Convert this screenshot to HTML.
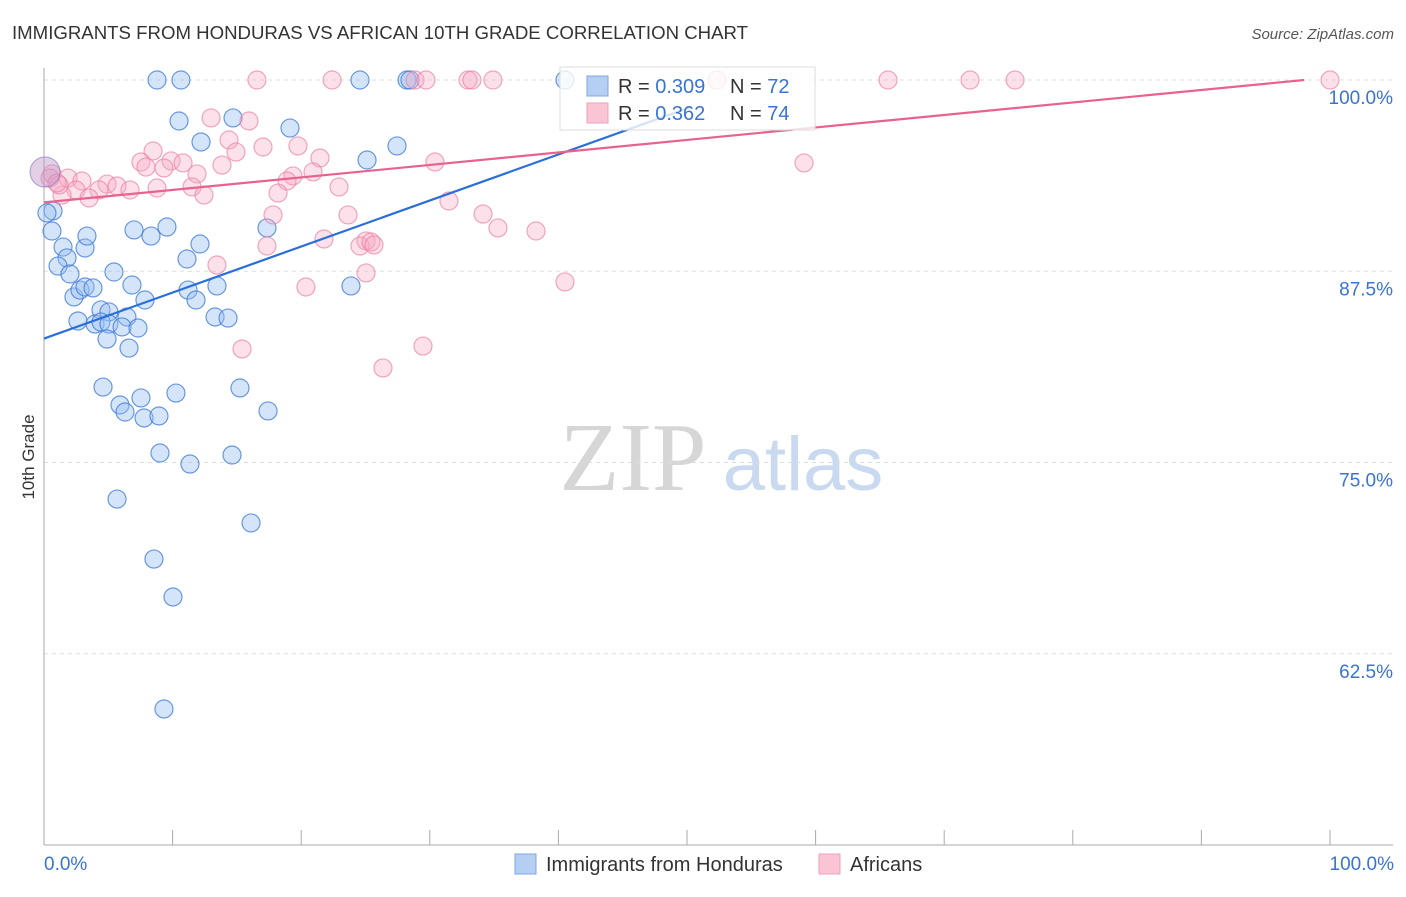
<!DOCTYPE html>
<html><head><meta charset="utf-8"><style>
body{margin:0;background:#fff;width:1406px;height:892px;overflow:hidden;font-family:"Liberation Sans",sans-serif}
</style></head><body>
<svg id="chart" width="1406" height="892" xmlns="http://www.w3.org/2000/svg" font-family="Liberation Sans, sans-serif">
<text x="12" y="39" font-size="18" fill="#333" textLength="736" lengthAdjust="spacingAndGlyphs">IMMIGRANTS FROM HONDURAS VS AFRICAN 10TH GRADE CORRELATION CHART</text>
<text x="1394" y="39" font-size="15" fill="#555" text-anchor="end" font-style="italic">Source: ZipAtlas.com</text>
<g>
<text x="633" y="490" font-size="98" fill="#d6d6d6" font-family="Liberation Serif, serif" text-anchor="middle">ZIP</text>
<text x="803" y="490" font-size="76" fill="#c8d9f0" text-anchor="middle">atlas</text>
</g>
<g id="grid"></g>
<g id="axes"></g>
<g id="pts"></g>
<g id="lines"></g>
<text transform="translate(34,457) rotate(-90)" font-size="17" fill="#333" text-anchor="middle">10th Grade</text>
<text x="44" y="870" font-size="19" fill="#3a73d4">0.0%</text>
<text x="1394" y="870" font-size="19" fill="#3a73d4" text-anchor="end">100.0%</text>
<g>
<rect x="560" y="67" width="255" height="63" fill="rgba(255,255,255,0.8)" stroke="#ddd"/>
<rect x="587" y="76" width="21" height="20" fill="#b5cff3" stroke="#7fa6e3"/>
<rect x="587" y="103" width="21" height="20" fill="#f9c4d3" stroke="#f0a2b9"/>
<text x="618" y="93" font-size="20" fill="#333">R = <tspan fill="#3a73d4">0.309</tspan></text>
<text x="730" y="93" font-size="20" fill="#333">N = <tspan fill="#3a73d4">72</tspan></text>
<text x="618" y="120" font-size="20" fill="#333">R = <tspan fill="#3a73d4"> 0.362</tspan></text>
<text x="730" y="120" font-size="20" fill="#333">N = <tspan fill="#3a73d4">74</tspan></text>
</g>
<g><rect x="515" y="854" width="21" height="20" fill="#b5cff3" stroke="#7fa6e3"/><text x="546" y="871" font-size="20" fill="#333">Immigrants from Honduras</text></g>
<g><rect x="819" y="854" width="21" height="20" fill="#f9c4d3" stroke="#f0a2b9"/><text x="850" y="871" font-size="20" fill="#333">Africans</text></g>
</svg>
<script>
const yTicks=[100,87.5,75,62.5];
const yTickLabels=["100.0%","87.5%","75.0%","62.5%"];
const xTicks=[0,10,20,30,40,50,60,70,80,90,100];
const bluePx=[[157,80],[181,80],[360,80],[407,80],[565,80],[410,80],[179,121],[233,118],[201,142],[290,128],[397,146],[367,160],[53,211],[47,213],[52,231],[267,228],[63,247],[85,248],[87,236],[134,230],[151,236],[167,227],[200,244],[67,258],[58,266],[187,259],[70,274],[114,272],[74,297],[80,290],[85,287],[93,288],[132,285],[188,290],[217,286],[351,286],[145,300],[196,300],[101,310],[109,312],[127,317],[215,317],[228,318],[78,321],[95,324],[101,322],[109,324],[122,327],[138,328],[107,339],[129,348],[103,387],[120,405],[125,412],[141,398],[144,418],[159,416],[176,393],[240,388],[268,411],[160,453],[190,464],[232,455],[117,499],[251,523],[154,559],[173,597],[164,709]];
const pinkPx=[[257,80],[332,80],[415,80],[426,80],[468,80],[472,80],[493,80],[717,80],[888,80],[970,80],[1015,80],[1330,80],[211,118],[249,121],[229,140],[298,146],[153,151],[263,147],[320,158],[236,152],[171,161],[141,162],[183,163],[146,167],[164,168],[197,174],[222,165],[435,162],[804,163],[52,174],[68,178],[82,181],[107,184],[117,186],[99,190],[130,190],[157,188],[293,176],[313,172],[287,181],[192,187],[76,190],[62,195],[89,198],[204,195],[278,193],[339,187],[59,185],[449,201],[483,214],[348,215],[273,215],[498,228],[536,231],[324,239],[366,241],[360,246],[371,242],[374,245],[267,246],[217,265],[366,273],[306,287],[565,282],[242,349],[423,346],[383,368],[50,178],[57,183]];
const blueX=bluePx.map(p=>+((p[0]-44)/12.86).toFixed(2));
const blueY=bluePx.map(p=>+(100-(p[1]-80)/15.3).toFixed(2));
const pinkX=pinkPx.map(p=>+((p[0]-44)/12.86).toFixed(2));
const pinkY=pinkPx.map(p=>+(100-(p[1]-80)/15.3).toFixed(2));
const blueLine=[[0,83.1],[50.2,98.2]];
const pinkLine=[[0,92.0],[98,100]];
const X=v=>44+v*12.86, Y=v=>80+(100-v)*15.3;
const NS="http://www.w3.org/2000/svg";
function mk(t,a,par){const e=document.createElementNS(NS,t);for(const k in a)e.setAttribute(k,a[k]);document.getElementById(par).appendChild(e);return e;}
yTicks.forEach((v,i)=>{
 const l=mk('line',{x1:44,x2:1393,y1:Y(v),y2:Y(v),stroke:'#ddd','stroke-dasharray':'4,4'},'grid');
 
 
 const t=mk('text',{x:1393,y:Y(v)+24,'font-size':19,fill:'#3a73d4','text-anchor':'end'},'grid');
 t.textContent=yTickLabels[i];
 
 
});
const ya=mk('line',{x1:44,x2:44,y1:68,y2:845,stroke:'#aaa'},'axes');


const xa=mk('line',{x1:44,x2:1393,y1:845,y2:845,stroke:'#aaa'},'axes');


xTicks.forEach(v=>{const t=mk('line',{x1:X(v),x2:X(v),y1:830,y2:845,stroke:'#aaa'},'axes');
 
 });
function pts(xs,ys,fill,stroke,name){xs.forEach((x,i)=>{const c=mk('circle',{cx:X(x),cy:Y(ys[i]),r:9,fill:fill,stroke:stroke,'stroke-width':1.2},'pts');
 
 });}
pts(blueX,blueY,'rgba(150,190,240,0.4)','rgba(60,120,215,0.75)','honduras-point');
pts(pinkX,pinkY,'rgba(245,170,195,0.35)','rgba(235,130,165,0.7)','africans-point');
const bb=mk('circle',{cx:45,cy:172,r:15,fill:'rgba(190,150,200,0.45)',stroke:'rgba(140,120,200,0.7)'},'pts');


const bl=mk('line',{x1:X(blueLine[0][0]),y1:Y(blueLine[0][1]),x2:X(blueLine[1][0]),y2:Y(blueLine[1][1]),stroke:'#2a6fd8','stroke-width':2.2},'lines');


const pl=mk('line',{x1:X(pinkLine[0][0]),y1:Y(pinkLine[0][1]),x2:X(pinkLine[1][0]),y2:Y(pinkLine[1][1]),stroke:'#e8628e','stroke-width':2.2},'lines');


</script>
</body></html>
